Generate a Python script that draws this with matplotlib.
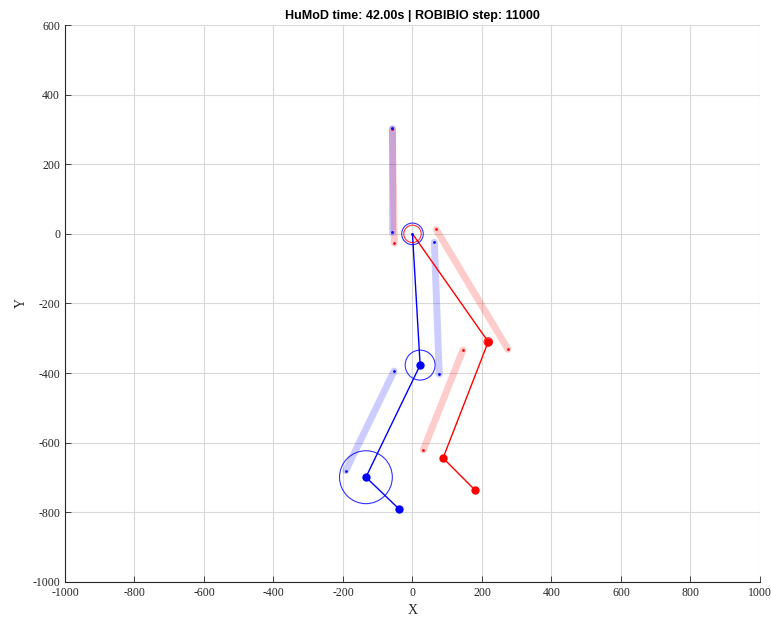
import matplotlib
matplotlib.use("Agg")
import matplotlib.pyplot as plt
from matplotlib.patches import Circle

plt.rcParams['axes.unicode_minus'] = False

# Skeleton joints (hip, knee, ankle, toe)
blue_x = [0, 22, -134, -39]
blue_y = [0, -377, -699, -790]
red_x = [0, 218, 88, 180]
red_y = [0, -310, -644, -736]

# Translucent reference segments: (x0, y0, x1, y1)
blue_segs = [(-60, 303, -60, 4), (63, -24, 77, -403), (-53, -394, -192, -680)]
red_segs = [(-58, 300, -52, -27), (68, 13, 275, -332), (145, -334, 31, -621)]

# Circles: (x, y, r, color)
circles = [(0, 0, 31, 'blue'), (0, 0, 25, 'red'), (22, -377, 43, 'blue'),
           (-134, -699, 76, 'blue'), (218, -310, 12, 'red')]

xticks = list(range(-1000, 1001, 200))
yticks = list(range(-1000, 601, 200))

fig = plt.figure(figsize=(7.71, 6.19), dpi=100)
ax = fig.add_axes([0.0843, 0.0598, 0.9014, 0.8998])

for (x0, y0, x1, y1) in red_segs:
    ax.plot([x0, x1], [y0, y1], color='red', lw=5, alpha=0.2, solid_capstyle='round', zorder=2)
    ax.plot([x0, x1], [y0, y1], 'o', color='red', ms=2, mew=0, zorder=3)
for (x0, y0, x1, y1) in blue_segs:
    ax.plot([x0, x1], [y0, y1], color='blue', lw=5, alpha=0.2, solid_capstyle='round', zorder=2)
    ax.plot([x0, x1], [y0, y1], 'o', color='blue', ms=2, mew=0, zorder=3)

ax.plot(red_x, red_y, '-', color='red', lw=1, zorder=4)
ax.plot(red_x[1:], red_y[1:], 'o', color='red', ms=6, mew=0, zorder=5)
ax.plot(blue_x, blue_y, '-', color='blue', lw=1, zorder=4)
ax.plot(blue_x[1:], blue_y[1:], 'o', color='blue', ms=6, mew=0, zorder=5)
ax.plot([0], [0], 'o', color='blue', ms=2, mew=0, zorder=6)

for (cx, cy, r, c) in circles:
    ax.add_patch(Circle((cx, cy), r, fill=False, edgecolor=c, lw=0.8, alpha=0.8, zorder=5))

ax.set_xlim(-1000, 1000)
ax.set_ylim(-1000, 600)
ax.set_xticks(xticks)
ax.set_yticks(yticks)
ax.grid(True, color='#d9d9d9', lw=0.8)
ax.set_axisbelow(True)
for s in ['top', 'right']:
    ax.spines[s].set_visible(False)
for s in ['left', 'bottom']:
    ax.spines[s].set_color('#262626')
    ax.spines[s].set_linewidth(0.8)
ax.tick_params(direction='in', length=4, width=0.6, colors='#262626', labelsize=8.5)
for lab in ax.get_xticklabels() + ax.get_yticklabels():
    lab.set_family('Liberation Serif')
ax.set_xlabel('X', family='Liberation Serif', fontsize=10, color='#262626', labelpad=4)
ax.set_ylabel('Y', family='Liberation Serif', fontsize=10, color='#262626', labelpad=3)
ax.set_title('HuMoD time: 42.00s | ROBIBIO step: 11000', family='Liberation Sans',
             fontweight='bold', fontsize=9, pad=4)

fig.savefig('out.png', dpi=100)
